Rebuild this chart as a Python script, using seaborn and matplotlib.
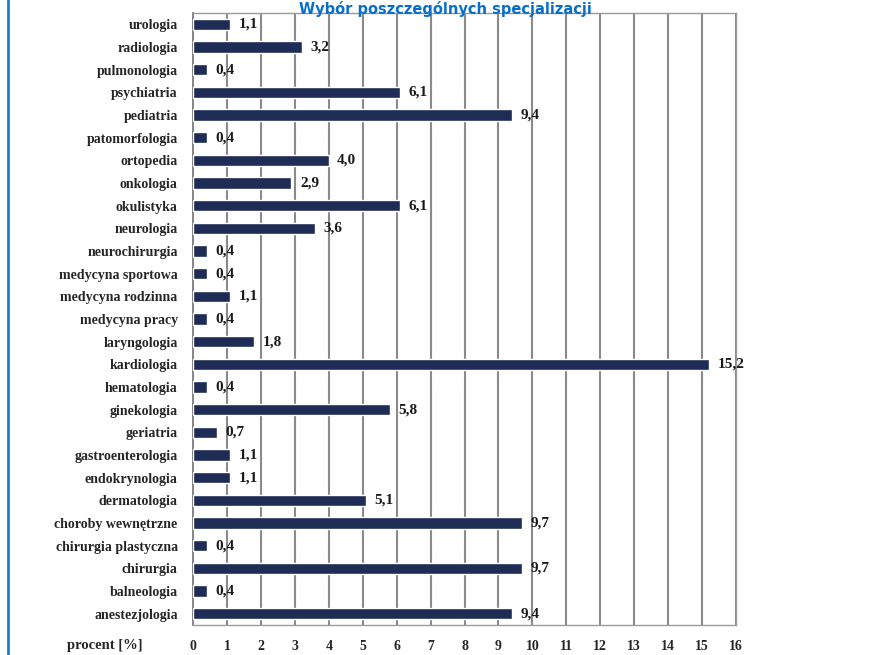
import matplotlib
matplotlib.use("Agg")
import matplotlib.pyplot as plt
from matplotlib.lines import Line2D
import seaborn as sns
import pandas as pd

specjalizacje = [
    "urologia", "radiologia", "pulmonologia", "psychiatria", "pediatria",
    "patomorfologia", "ortopedia", "onkologia", "okulistyka", "neurologia",
    "neurochirurgia", "medycyna sportowa", "medycyna rodzinna", "medycyna pracy",
    "laryngologia", "kardiologia", "hematologia", "ginekologia", "geriatria",
    "gastroenterologia", "endokrynologia", "dermatologia", "choroby wewnętrzne",
    "chirurgia plastyczna", "chirurgia", "balneologia", "anestezjologia",
]
procent = [
    1.1, 3.2, 0.4, 6.1, 9.4,
    0.4, 4.0, 2.9, 6.1, 3.6,
    0.4, 0.4, 1.1, 0.4,
    1.8, 15.2, 0.4, 5.8, 0.7,
    1.1, 1.1, 5.1, 9.7,
    0.4, 9.7, 0.4, 9.4,
]
x_ticks = list(range(0, 17))
tytul = "Wybór poszczególnych specjalizacji"
os_x = "procent [%]"

df = pd.DataFrame({"specjalizacja": specjalizacje, "procent": procent})

sns.set_theme(style="white")
plt.rcParams["font.family"] = ["Liberation Serif", "DejaVu Serif"]

fig = plt.figure(figsize=(8.72, 6.55), dpi=100)
ax = fig.add_axes([193 / 872, 1 - 625 / 655, (736 - 193) / 872, (625 - 13) / 655])

sns.barplot(data=df, y="specjalizacja", x="procent", orient="h",
            color="#1f2c55", saturation=1, width=0.5, ax=ax, zorder=3)

ax.set_xlim(0, 16)
ax.set_ylim(len(specjalizacje) - 0.5, -0.5)
ax.set_xticks(x_ticks)
ax.set_xticklabels([str(t) for t in x_ticks], fontsize=10, fontweight="bold")
ax.set_yticks(range(len(specjalizacje)))
ax.set_yticklabels(specjalizacje, fontsize=10, fontweight="bold")
ax.set_xlabel("")
ax.set_ylabel("")

# vertical grid on every integer
for t in x_ticks[1:]:
    ax.axvline(t, color="#8a8a8a", lw=1.5, zorder=1)

for side in ["top", "right", "bottom"]:
    ax.spines[side].set_color("#9a9a9a")
    ax.spines[side].set_linewidth(1.0)
ax.spines["left"].set_color("#707070")
ax.spines["left"].set_linewidth(1.2)

ax.tick_params(axis="y", which="major", length=0, pad=11)
ax.tick_params(axis="x", which="major", length=0, pad=11)
ax.set_yticks([i + 0.5 for i in range(-1, len(specjalizacje))], minor=True)
ax.tick_params(axis="y", which="minor", length=4, color="#707070", direction="out")

for i, v in enumerate(procent):
    ax.text(v + 0.25, i, f"{v:.1f}".replace(".", ","), va="center", ha="left",
            fontsize=11, fontweight="bold", color="#1a1a1a", zorder=4)

fig.text(105 / 872, 1 - 646 / 655, os_x, ha="center", va="center",
         fontsize=10.5, fontweight="bold")

fig.text(445 / 872, 0.999, tytul, ha="center", va="top",
         fontsize=10.5, fontweight="bold", color="#0a6ec8",
         family=["DejaVu Sans"])

fig.add_artist(Line2D([8 / 872, 8 / 872], [0, 1], transform=fig.transFigure,
                      color="#1a7fd4", lw=2))

fig.savefig("out.png", dpi=100)
